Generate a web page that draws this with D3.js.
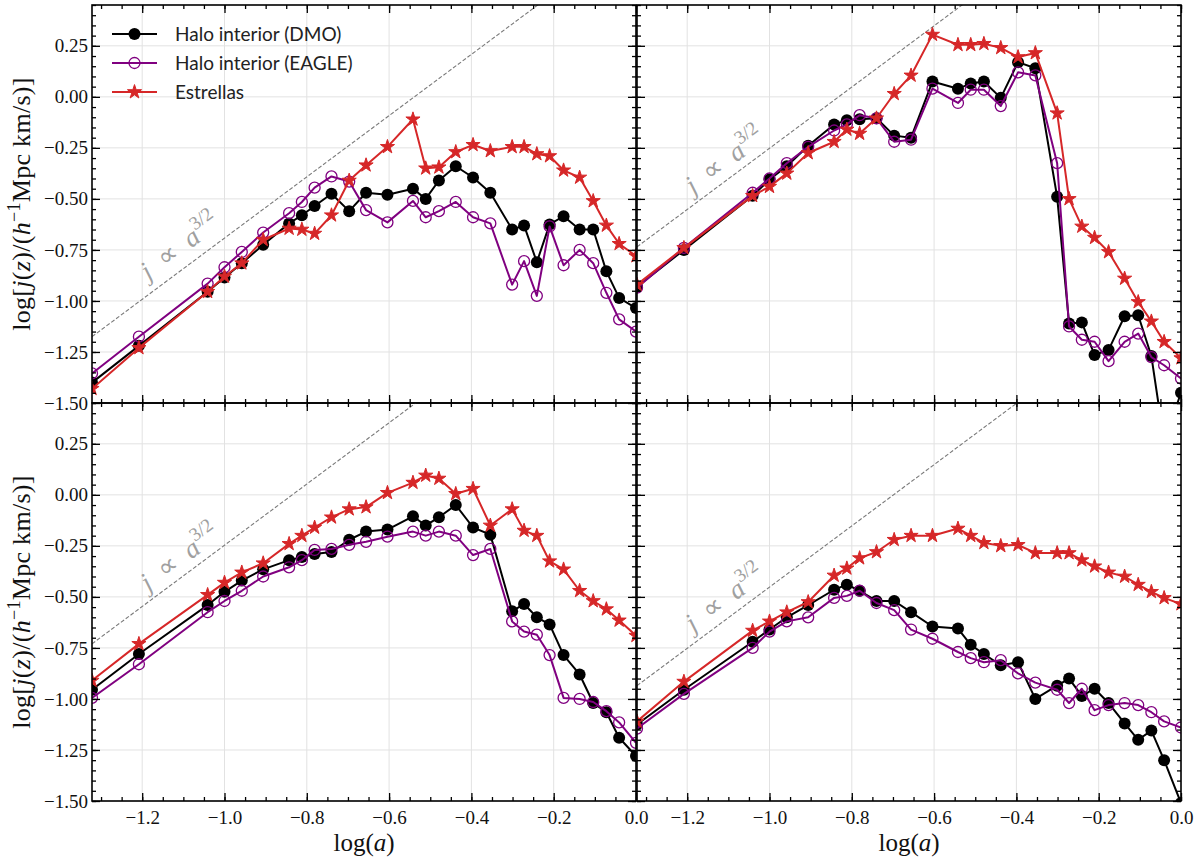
<!DOCTYPE html>
<html>
<head>
<meta charset="utf-8">
<script src="https://cdn.jsdelivr.net/npm/d3@7"></script>
<style>
  body { margin: 0; background: #fff; }
  svg { display: block; }
</style>
</head>
<body>
<svg id="chart" width="1202" height="860"></svg>
<script>
// Snapshot scale factors, log(a)
const logA = [-1.322, -1.208, -1.041, -1.0, -0.958, -0.906, -0.843, -0.812, -0.781, -0.740,
              -0.697, -0.656, -0.604, -0.542, -0.511, -0.479, -0.438, -0.396, -0.354, -0.301,
              -0.272, -0.241, -0.210, -0.176, -0.137, -0.104, -0.072, -0.041, 0.0];

// Panel A (top left)
const dmoA   = [-1.40, -1.22, -0.955, -0.885, -0.815, -0.725, -0.62, -0.58, -0.535, -0.475,
                -0.56, -0.47, -0.48, -0.45, -0.50, -0.41, -0.34, -0.395, -0.47, -0.65,
                -0.63, -0.81, -0.625, -0.585, -0.65, -0.65, -0.855, -0.985, -1.035];
const eagleA = [-1.355, -1.175, -0.915, -0.835, -0.76, -0.665, -0.57, -0.515, -0.445, -0.39,
                -0.415, -0.555, -0.615, -0.51, -0.59, -0.56, -0.515, -0.59, -0.62, -0.92,
                -0.805, -0.975, -0.635, -0.825, -0.75, -0.815, -0.96, -1.09, -1.15];
const starsA = [-1.43, -1.23, -0.955, -0.88, -0.815, -0.70, -0.645, -0.65, -0.67, -0.58,
                -0.41, -0.335, -0.245, -0.11, -0.35, -0.345, -0.27, -0.235, -0.265, -0.245,
                -0.245, -0.28, -0.29, -0.36, -0.395, -0.51, -0.63, -0.72, -0.78];

// Panel B (top right)
const dmoB   = [-0.93, -0.75, -0.485, -0.405, -0.34, -0.24, -0.135, -0.115, -0.11, -0.105,
                -0.19, -0.20, 0.075, 0.04, 0.065, 0.075, -0.005, 0.17, 0.14, -0.49,
                -1.11, -1.105, -1.265, -1.24, -1.075, -1.07, -1.27, -1.69, -1.45];
const eagleB = [-0.935, -0.74, -0.47, -0.40, -0.325, -0.245, -0.165, -0.135, -0.09, -0.105,
                -0.22, -0.21, 0.04, -0.03, 0.035, 0.035, -0.045, 0.12, 0.105, -0.325,
                -1.125, -1.19, -1.20, -1.295, -1.20, -1.16, -1.275, -1.315, -1.38];
const starsB = [-0.92, -0.74, -0.485, -0.44, -0.375, -0.275, -0.22, -0.16, -0.18, -0.105,
                0.015, 0.105, 0.305, 0.255, 0.255, 0.26, 0.24, 0.195, 0.215, -0.08,
                -0.50, -0.635, -0.69, -0.76, -0.89, -1.005, -1.10, -1.20, -1.28];

// Panel C (bottom left)
const dmoC   = [-0.955, -0.78, -0.54, -0.475, -0.42, -0.365, -0.32, -0.305, -0.29, -0.28,
                -0.22, -0.18, -0.17, -0.105, -0.15, -0.11, -0.05, -0.16, -0.195, -0.57,
                -0.535, -0.60, -0.635, -0.785, -0.88, -1.02, -1.065, -1.19, -1.28];
const eagleC = [-0.995, -0.83, -0.575, -0.52, -0.47, -0.40, -0.355, -0.32, -0.27, -0.265,
                -0.245, -0.23, -0.205, -0.18, -0.20, -0.18, -0.20, -0.295, -0.265, -0.62,
                -0.67, -0.685, -0.785, -0.995, -1.0, -1.015, -1.06, -1.115, -1.215];
const starsC = [-0.91, -0.73, -0.49, -0.43, -0.38, -0.335, -0.24, -0.20, -0.16, -0.11,
                -0.07, -0.06, 0.01, 0.06, 0.095, 0.08, 0.005, 0.03, -0.15, -0.07,
                -0.175, -0.20, -0.325, -0.365, -0.47, -0.52, -0.56, -0.615, -0.69];

// Panel D (bottom right)
const dmoD   = [-1.125, -0.955, -0.72, -0.66, -0.60, -0.54, -0.465, -0.44, -0.47, -0.52,
                -0.52, -0.575, -0.645, -0.655, -0.735, -0.78, -0.835, -0.82, -1.0, -0.935,
                -0.90, -0.985, -0.95, -1.02, -1.12, -1.20, -1.155, -1.30, -1.51];
const eagleD = [-1.145, -0.975, -0.75, -0.67, -0.62, -0.60, -0.505, -0.495, -0.47, -0.53,
                -0.565, -0.66, -0.705, -0.77, -0.80, -0.82, -0.81, -0.875, -0.92, -0.955,
                -1.02, -0.95, -1.055, -1.03, -1.02, -1.03, -1.065, -1.11, -1.14];
const starsD = [-1.11, -0.915, -0.665, -0.62, -0.575, -0.525, -0.395, -0.36, -0.31, -0.28,
                -0.22, -0.20, -0.20, -0.165, -0.20, -0.235, -0.25, -0.245, -0.285, -0.285,
                -0.285, -0.32, -0.35, -0.38, -0.40, -0.44, -0.475, -0.505, -0.535];

// Reference power law j ∝ a^{3/2}: log j = 1.5 log a + c, one intercept per panel
const guideSlope = 1.5;
const guideIntercept = [0.808, 1.248, 1.253, 1.048];
const guideLabelX = [-1.185, -1.185, -1.185, -1.185];
const guideLabelLift = [0.07, 0.05, 0.05, 0.055];

// Axis ticks
const xMajor = [-1.2, -1.0, -0.8, -0.6, -0.4, -0.2, 0.0];
const yMajor = [-1.5, -1.25, -1.0, -0.75, -0.5, -0.25, 0.0, 0.25];
const xDomain = [-1.322, 0.0];
const yDomain = [-1.5, 0.45];

const seriesNames = ["Halo interior (DMO)", "Halo interior (EAGLE)", "Estrellas"];

// ---------------------------------------------------------------
const svg = d3.select("#chart");
const colX = [92, 637], panelW = 544;
const rowY = [5, 403], panelH = 398;
const C_DMO = "#000000", C_EAGLE = "#800080", C_STAR = "#d62728";
const serif = "'Liberation Serif', 'Times New Roman', serif";
const sans = "Lato, 'Open Sans', sans-serif";

const xMinor = d3.range(-1.30, 0.001, 0.05).map(v => +v.toFixed(2));
const yMinor = d3.range(-1.50, 0.451, 0.05).map(v => +v.toFixed(2));

const panelData = [
  { dmo: dmoA, eagle: eagleA, stars: starsA },
  { dmo: dmoB, eagle: eagleB, stars: starsB },
  { dmo: dmoC, eagle: eagleC, stars: starsC },
  { dmo: dmoD, eagle: eagleD, stars: starsD }
];

const starSym = d3.symbol().type(d3.symbolStar).size(62);
const R_DMO = 6.0, R_EAGLE = 5.5;

panelData.forEach((pd, i) => {
  const col = i % 2, row = Math.floor(i / 2);
  const x0 = colX[col], x1 = x0 + panelW, y0 = rowY[row], y1 = y0 + panelH;
  const x = d3.scaleLinear().domain(xDomain).range([x0, x1]);
  const y = d3.scaleLinear().domain(yDomain).range([y1, y0]);
  const g = svg.append("g");

  const clipId = "clip" + i;
  svg.append("clipPath").attr("id", clipId)
    .append("rect").attr("x", x0).attr("y", y0).attr("width", panelW).attr("height", panelH);

  // grid
  const grid = g.append("g").attr("stroke", "#e2e2e2").attr("stroke-width", 1);
  grid.selectAll(".gx").data(xMajor).join("line")
    .attr("x1", d => x(d)).attr("x2", d => x(d)).attr("y1", y0).attr("y2", y1);
  grid.selectAll(".gy").data(yMajor).join("line")
    .attr("x1", x0).attr("x2", x1).attr("y1", d => y(d)).attr("y2", d => y(d));

  const plot = g.append("g").attr("clip-path", `url(#${clipId})`);

  // reference slope
  const c = guideIntercept[i];
  plot.append("path")
    .attr("d", d3.line()([[x(xDomain[0]), y(guideSlope * xDomain[0] + c)], [x(xDomain[1]), y(guideSlope * xDomain[1] + c)]]))
    .attr("stroke", "#7a7a7a").attr("stroke-width", 1.1).attr("stroke-dasharray", "4,2").attr("fill", "none");

  const line = d3.line().x((d, k) => x(logA[k])).y(d => y(d));
  // DMO
  plot.append("path").attr("d", line(pd.dmo)).attr("fill", "none")
    .attr("stroke", C_DMO).attr("stroke-width", 2).attr("stroke-linejoin", "round");
  plot.selectAll(".mdmo").data(pd.dmo).join("circle")
    .attr("cx", (d, k) => x(logA[k])).attr("cy", d => y(d)).attr("r", R_DMO).attr("fill", C_DMO);
  // EAGLE
  plot.append("path").attr("d", line(pd.eagle)).attr("fill", "none")
    .attr("stroke", C_EAGLE).attr("stroke-width", 2).attr("stroke-linejoin", "round");
  plot.selectAll(".meagle").data(pd.eagle).join("circle")
    .attr("cx", (d, k) => x(logA[k])).attr("cy", d => y(d)).attr("r", R_EAGLE)
    .attr("fill", "none").attr("stroke", C_EAGLE).attr("stroke-width", 1.3);
  // stars
  plot.append("path").attr("d", line(pd.stars)).attr("fill", "none")
    .attr("stroke", C_STAR).attr("stroke-width", 2).attr("stroke-linejoin", "round");
  plot.selectAll(".mstar").data(pd.stars).join("path")
    .attr("transform", (d, k) => `translate(${x(logA[k])},${y(d)})`)
    .attr("d", starSym).attr("fill", C_STAR).attr("stroke", C_STAR).attr("stroke-width", 1);

  // guide label along the dashed line
  const ang = -Math.atan2(guideSlope * (y(0) - y(1)), x(1) - x(0)) * 180 / Math.PI;
  const lx = guideLabelX[i], ly = guideSlope * lx + c + guideLabelLift[i];
  const gt = g.append("text")
    .attr("transform", `translate(${x(lx)},${y(ly)}) rotate(${ang})`)
    .attr("font-family", serif).attr("font-size", 27).attr("fill", "#a0a0a0");
  gt.append("tspan").attr("font-style", "italic").text("j");
  gt.append("tspan").text("\u2002\u221D\u2002");
  gt.append("tspan").attr("font-style", "italic").text("a");
  gt.append("tspan").attr("font-size", 19).attr("dy", -12).text("3/2");

  // axes with inward ticks on all sides
  const fx = d3.format(".1f"), fy = d3.format(".2f");
  const mk = (axis, tx, ty, vals, size, fmt, pad) => {
    const ag = g.append("g").attr("transform", `translate(${tx},${ty})`)
      .call(axis.tickValues(vals).tickSize(size).tickPadding(pad).tickFormat(fmt));
    ag.attr("font-family", serif);
    ag.select(".domain").remove();
    ag.selectAll("line").attr("stroke", "#000").attr("stroke-width", 1.3);
    ag.selectAll("text").attr("font-family", serif).attr("font-size", 19).attr("fill", "#111");
    return ag;
  };
  mk(d3.axisBottom(x), 0, y1, xMajor, -8, row === 1 ? fx : () => "", 10);
  mk(d3.axisBottom(x), 0, y1, xMinor, -4, () => "", 10);
  mk(d3.axisTop(x), 0, y0, xMajor, -8, () => "", 4);
  mk(d3.axisTop(x), 0, y0, xMinor, -4, () => "", 4);
  mk(d3.axisLeft(y), x0, 0, yMajor, -8, col === 0 ? fy : () => "", 4);
  mk(d3.axisLeft(y), x0, 0, yMinor, -4, () => "", 4);
  mk(d3.axisRight(y), x1, 0, yMajor, -8, () => "", 4);
  mk(d3.axisRight(y), x1, 0, yMinor, -4, () => "", 4);

  // frame
  g.append("rect").attr("x", x0).attr("y", y0).attr("width", panelW).attr("height", panelH)
    .attr("fill", "none").attr("stroke", "#000").attr("stroke-width", 1.6);

  // y label on left column
  if (col === 0) {
    const yl = g.append("text")
      .attr("transform", `translate(30,${(y0 + y1) / 2}) rotate(-90)`)
      .attr("text-anchor", "middle").attr("font-family", serif).attr("font-size", 26)
      .attr("letter-spacing", 0.3).attr("fill", "#111");
    yl.append("tspan").text("log[");
    yl.append("tspan").attr("font-style", "italic").text("j");
    yl.append("tspan").text("(");
    yl.append("tspan").attr("font-style", "italic").text("z");
    yl.append("tspan").text(")/(");
    yl.append("tspan").attr("font-style", "italic").text("h");
    yl.append("tspan").attr("font-size", 18).attr("dy", -10).text("\u22121");
    yl.append("tspan").attr("dy", 10).text("Mpc km/s)]");
  }
  // x label on bottom row
  if (row === 1) {
    const xl = g.append("text")
      .attr("x", (x0 + x1) / 2).attr("y", 851)
      .attr("text-anchor", "middle").attr("font-family", serif).attr("font-size", 25).attr("fill", "#111");
    xl.append("tspan").text("log(");
    xl.append("tspan").attr("font-style", "italic").text("a");
    xl.append("tspan").text(")");
  }
});

// legend in the first panel
const legend = svg.append("g");
const legendRows = [34, 63, 92];
const lx0 = 112, lx1 = 157, lmid = (lx0 + lx1) / 2;
seriesNames.forEach((name, k) => {
  const yy = legendRows[k];
  const color = [C_DMO, C_EAGLE, C_STAR][k];
  legend.append("line").attr("x1", lx0).attr("x2", lx1).attr("y1", yy).attr("y2", yy)
    .attr("stroke", color).attr("stroke-width", 2);
  if (k === 0) legend.append("circle").attr("cx", lmid).attr("cy", yy).attr("r", R_DMO).attr("fill", color);
  if (k === 1) legend.append("circle").attr("cx", lmid).attr("cy", yy).attr("r", R_EAGLE)
    .attr("fill", "none").attr("stroke", color).attr("stroke-width", 1.3);
  if (k === 2) legend.append("path").attr("transform", `translate(${lmid},${yy})`)
    .attr("d", starSym).attr("fill", color).attr("stroke", color).attr("stroke-width", 1);
  legend.append("text").attr("x", 175).attr("y", yy).attr("dy", "0.35em")
    .attr("font-family", sans).attr("font-size", 19).attr("fill", "#222").text(name);
});
</script>
</body>
</html>
